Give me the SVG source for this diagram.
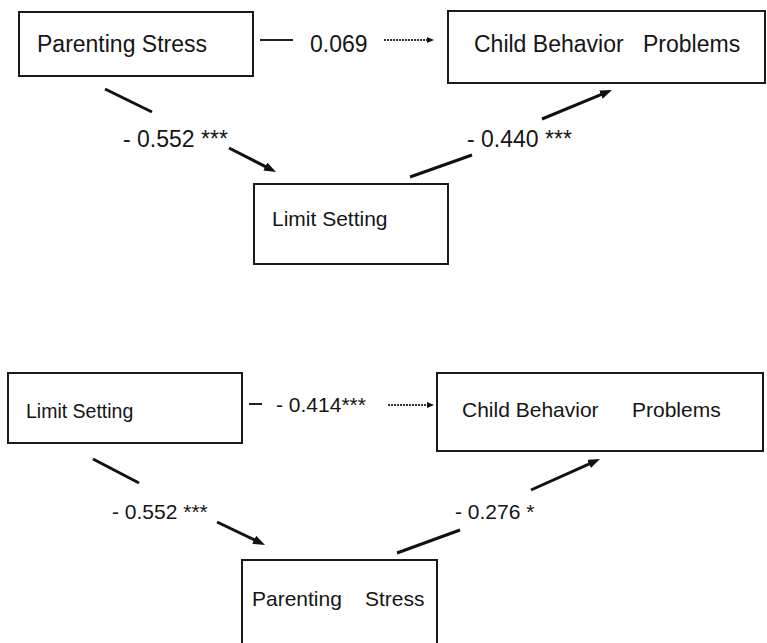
<svg xmlns="http://www.w3.org/2000/svg" width="767" height="643" viewBox="0 0 767 643">
<style>
.box{fill:#fff;stroke:#1a1a1a;stroke-width:2}
.t{font-family:"Liberation Sans",Arial,sans-serif;fill:#151515}
.thick{stroke:#111;stroke-width:3;fill:none}
.dash{stroke:#222;stroke-width:2;fill:none}
.dot{stroke:#333;stroke-width:1.8;stroke-dasharray:2 1;fill:none}
</style>
<defs>
<marker id="big" markerUnits="userSpaceOnUse" markerWidth="13" markerHeight="10" refX="4" refY="4.5" orient="auto"><path d="M0,0 L12,4.5 L0,9 z" fill="#111"/></marker>
<marker id="small" markerUnits="userSpaceOnUse" markerWidth="8" markerHeight="7" refX="1" refY="3" orient="auto"><path d="M0,0 L7,3 L0,6 z" fill="#111"/></marker>
</defs>
<rect width="767" height="643" fill="#fff"/>
<g id="top-parenting-stress"><rect class="box" x="19" y="12" width="234" height="64"/><text class="t" x="37" y="52" font-size="23">Parenting Stress</text></g>
<g id="top-child-behavior"><rect class="box" x="448" y="11" width="317" height="72"/><text class="t" y="52" font-size="23"><tspan x="474">Child Behavior</tspan><tspan x="643">Problems</tspan></text></g>
<g id="top-limit-setting"><rect class="box" x="254" y="184" width="194" height="80"/><text class="t" x="272" y="226" font-size="21">Limit Setting</text></g>
<g id="bottom-limit-setting"><rect class="box" x="8" y="373" width="234" height="70"/><text class="t" x="26" y="418" font-size="19.5">Limit Setting</text></g>
<g id="bottom-child-behavior"><rect class="box" x="437" y="373" width="326" height="78"/><text class="t" y="417" font-size="21"><tspan x="462">Child Behavior</tspan><tspan x="632">Problems</tspan></text></g>
<g id="bottom-parenting-stress"><rect class="box" x="242" y="560" width="195" height="95"/><text class="t" y="606" font-size="21"><tspan x="252">Parenting</tspan><tspan x="365">Stress</tspan></text></g>
<g id="connectors">
<line class="dash" x1="260" y1="40" x2="293" y2="40"/>
<text class="t" x="310" y="52" font-size="23">0.069</text>
<line class="dot" x1="384" y1="40" x2="428" y2="40" marker-end="url(#small)"/>
<line class="thick" x1="105" y1="89" x2="152" y2="112"/>
<text class="t" x="123" y="147" font-size="23">- 0.552 ***</text>
<line class="thick" x1="229" y1="148" x2="268.9" y2="168.4" marker-end="url(#big)"/>
<line class="thick" x1="410" y1="177" x2="472" y2="155"/>
<text class="t" x="467" y="147" font-size="23">- 0.440 ***</text>
<line class="thick" x1="542" y1="119" x2="604.6" y2="93.1" marker-end="url(#big)"/>
<line class="dash" x1="249" y1="404" x2="262" y2="404"/>
<text class="t" x="276" y="412" font-size="21">- 0.414***</text>
<line class="dot" x1="388" y1="405" x2="428" y2="405" marker-end="url(#small)"/>
<line class="thick" x1="93" y1="459" x2="139" y2="483"/>
<text class="t" x="112" y="519" font-size="21">- 0.552 ***</text>
<line class="thick" x1="217" y1="522" x2="257.8" y2="541.5" marker-end="url(#big)"/>
<line class="thick" x1="397" y1="553" x2="460" y2="530"/>
<text class="t" x="455" y="519" font-size="21">- 0.276 *</text>
<line class="thick" x1="531" y1="490" x2="592.7" y2="462.3" marker-end="url(#big)"/>
</g>
</svg>
